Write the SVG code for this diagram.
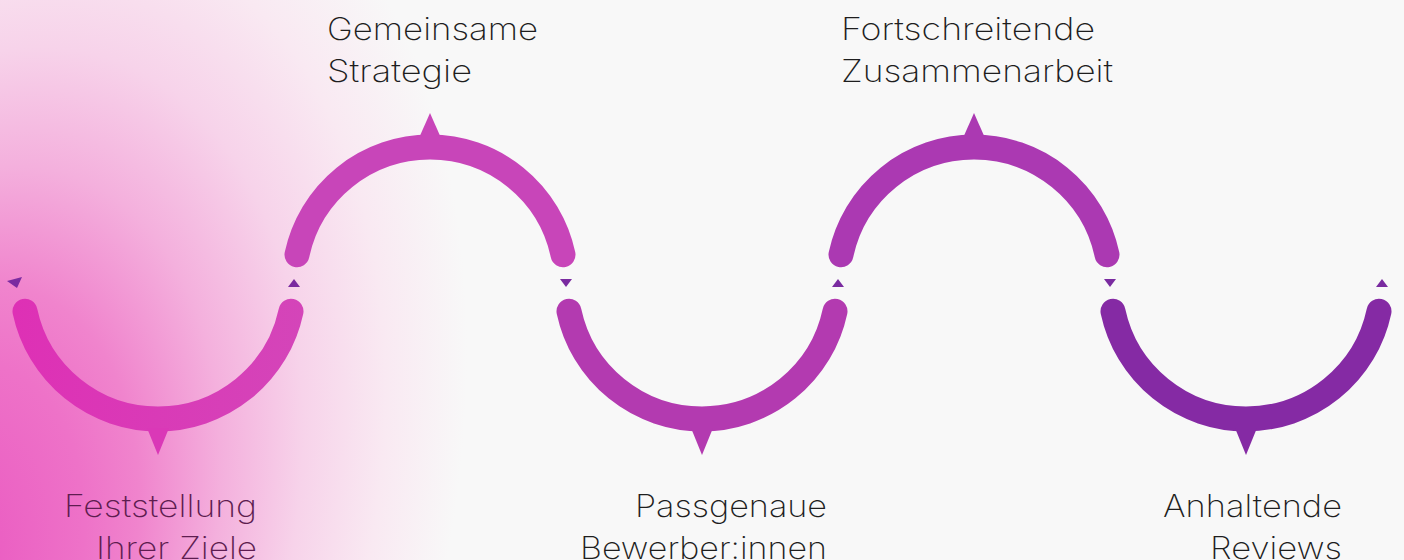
<svg xmlns="http://www.w3.org/2000/svg" width="1404" height="560" viewBox="0 0 1404 560">
  <defs>
    <radialGradient id="bgPink" cx="0" cy="0" r="1" gradientUnits="userSpaceOnUse" gradientTransform="translate(-80 600) rotate(-70) scale(820 500)">
      <stop offset="0" stop-color="#E84FBE"/>
      <stop offset="0.3" stop-color="#EE72C8"/>
      <stop offset="0.4" stop-color="#F084CD"/>
      <stop offset="0.55" stop-color="#F4B0DD"/>
      <stop offset="0.7" stop-color="#F7D3EA"/>
      <stop offset="0.85" stop-color="#F9E9F2"/>
      <stop offset="1" stop-color="#F8F8F8"/>
    </radialGradient>
    <linearGradient id="arc1Grad" x1="12" y1="0" x2="304" y2="0" gradientUnits="userSpaceOnUse">
      <stop offset="0" stop-color="#DE30B5"/>
      <stop offset="1" stop-color="#D445B9"/>
    </linearGradient>
    <style>
      .arc { fill: none; stroke-width: 25; stroke-linecap: round; }
      .lbl { font-family: Inter, "Liberation Sans", Arial, sans-serif; font-weight: 250; font-size: 31px; fill: #1E1E1E; }
      .lbl-pink { fill: #5E1D50; }
      .mark { fill: #7A2BA0; }
    </style>
  </defs>
  <rect x="0" y="0" width="1404" height="560" fill="#F8F8F8"/>
  <rect x="0" y="0" width="1404" height="560" fill="url(#bgPink)"/>

  <g id="connectors">
    <polygon class="mark" points="7,281 22,277 17,288"/>
    <polygon class="mark" points="288,287 300,287 294,279"/>
    <polygon class="mark" points="560,279 572,279 566,287"/>
    <polygon class="mark" points="832,287 844,287 838,279"/>
    <polygon class="mark" points="1104,279 1116,279 1110,287"/>
    <polygon class="mark" points="1376,287 1388,287 1382,279"/>
  </g>

  <g id="node-1">
    <path class="arc" stroke="url(#arc1Grad)" d="M25 311.3 A136 136 0 0 0 291 311.3"/>
    <polygon fill="#DA38B7" points="147,428 169,428 158,455"/>
    <text class="lbl lbl-pink" x="64" y="517" textLength="193" lengthAdjust="spacingAndGlyphs">Feststellung</text>
    <text class="lbl lbl-pink" x="96" y="559" textLength="161" lengthAdjust="spacingAndGlyphs">Ihrer Ziele</text>
  </g>

  <g id="node-2">
    <path class="arc" stroke="#C845B9" d="M297 254.7 A136 136 0 0 1 563 254.7"/>
    <polygon fill="#C845B9" points="419,138 441,138 430,113"/>
    <text class="lbl" x="327" y="40" textLength="211" lengthAdjust="spacingAndGlyphs">Gemeinsame</text>
    <text class="lbl" x="327" y="82" textLength="145" lengthAdjust="spacingAndGlyphs">Strategie</text>
  </g>

  <g id="node-3">
    <path class="arc" stroke="#B33AB0" d="M569 311.3 A136 136 0 0 0 835 311.3"/>
    <polygon fill="#B33AB0" points="691,428 713,428 702,455"/>
    <text class="lbl" x="635" y="517" textLength="192" lengthAdjust="spacingAndGlyphs">Passgenaue</text>
    <text class="lbl" x="580" y="559" textLength="247" lengthAdjust="spacingAndGlyphs">Bewerber:innen</text>
  </g>

  <g id="node-4">
    <path class="arc" stroke="#AB39B2" d="M841 254.7 A136 136 0 0 1 1107 254.7"/>
    <polygon fill="#AB39B2" points="963,138 985,138 974,113"/>
    <text class="lbl" x="841" y="40" textLength="254" lengthAdjust="spacingAndGlyphs">Fortschreitende</text>
    <text class="lbl" x="841" y="82" textLength="272" lengthAdjust="spacingAndGlyphs">Zusammenarbeit</text>
  </g>

  <g id="node-5">
    <path class="arc" stroke="#852AA4" d="M1113 311.3 A136 136 0 0 0 1379 311.3"/>
    <polygon fill="#852AA4" points="1235,428 1257,428 1246,455"/>
    <text class="lbl" x="1163" y="517" textLength="179" lengthAdjust="spacingAndGlyphs">Anhaltende</text>
    <text class="lbl" x="1210" y="559" textLength="132" lengthAdjust="spacingAndGlyphs">Reviews</text>
  </g>
</svg>
